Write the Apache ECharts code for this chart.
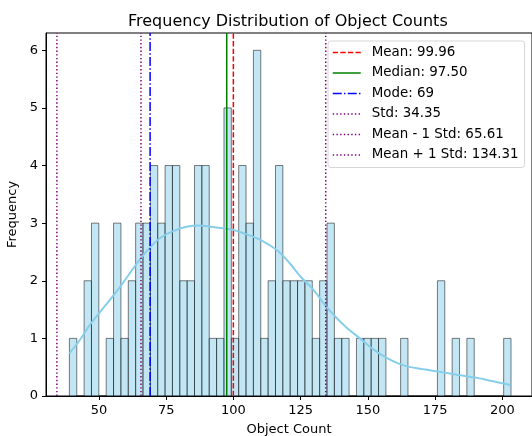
<!DOCTYPE html>
<html>
<head>
<meta charset="utf-8">
<script src="https://cdn.jsdelivr.net/npm/echarts@6/dist/echarts.min.js"></script>
<style>
  html, body { margin: 0; padding: 0; background: #fff; }
  #chart { width: 532px; height: 436px; }
</style>
</head>
<body>
<div id="chart"></div>
<script>
  // histogram: 60 bins from binMin, width binWidth
  var binMin = 39;
  var binWidth = 2.7367;
  var counts = [
    1, 0, 2, 3, 0, 1, 3, 1, 2, 3,
    3, 4, 3, 4, 4, 2, 2, 4, 4, 1,
    1, 5, 1, 4, 3, 6, 1, 2, 4, 2,
    2, 2, 2, 1, 2, 3, 1, 1, 0, 1,
    1, 1, 1, 0, 0, 1, 0, 0, 0, 0,
    2, 0, 1, 0, 1, 0, 0, 0, 0, 1
  ];

  // kde curve
  var kdeX = [39, 43, 47, 52, 57, 61, 65, 69, 73, 78, 83, 87, 91, 96, 100, 104, 109, 113, 117, 121,
              125, 130, 134, 138, 142, 147, 152, 157, 161, 165, 170, 174, 178, 183, 187, 191, 195, 199, 203];
  var kdeY = [0.74, 0.98, 1.26, 1.55, 1.84, 2.10, 2.36, 2.58, 2.75, 2.87, 2.94, 2.96, 2.94, 2.91, 2.88, 2.82, 2.73, 2.63, 2.50, 2.30,
              2.07, 1.83, 1.58, 1.37, 1.19, 1.00, 0.81, 0.66, 0.57, 0.51, 0.47, 0.44, 0.41, 0.37, 0.34, 0.31, 0.27, 0.23, 0.19];

  // reference lines
  var statNames = ['Mean: 99.96', 'Median: 97.50', 'Mode: 69', 'Std: 34.35', 'Mean - 1 Std: 65.61', 'Mean + 1 Std: 134.31'];
  var statValues = [99.96, 97.5, 69, 34.35, 65.61, 134.31];
  var statColors = ['#ff0000', '#008000', '#0000ff', '#800080', '#800080', '#800080'];

  var xTicks = [50, 75, 100, 125, 150, 175, 200];
  var yTicks = [0, 1, 2, 3, 4, 5, 6];

  var xMin = 30.3, xMax = 211, yMax = 6.3;
  var font = 'DejaVu Sans';
  var dashes = {
    dashed: [5.3, 2.3],
    solid: 'solid',
    dashdot: [9, 2.3, 1.4, 2.3],
    dotted: [1.4, 2.3]
  };
  var statDash = [dashes.dashed, dashes.solid, dashes.dashdot, dashes.dotted, dashes.dotted, dashes.dotted];

  var bins = [];
  for (var i = 0; i < counts.length; i++) {
    bins.push([binMin + i * binWidth, binMin + (i + 1) * binWidth, counts[i]]);
  }
  var kde = [];
  for (var k = 0; k < kdeX.length; k++) {
    kde.push([kdeX[k], kdeY[k]]);
  }

  var series = [
    {
      name: 'hist',
      type: 'custom',
      data: bins,
      encode: { x: [0, 1], y: 2 },
      z: 2,
      renderItem: function (params, api) {
        var p0 = api.coord([api.value(0), api.value(2)]);
        var p1 = api.coord([api.value(1), 0]);
        return {
          type: 'rect',
          shape: { x: p0[0], y: p0[1], width: p1[0] - p0[0], height: p1[1] - p0[1] },
          style: { fill: 'rgba(135,206,235,0.5)', stroke: 'rgba(0,0,0,0.5)', lineWidth: 1 }
        };
      }
    },
    {
      name: 'kde',
      type: 'line',
      data: kde,
      smooth: 0.4,
      symbol: 'none',
      z: 3,
      lineStyle: { color: '#87ceeb', width: 2 }
    }
  ];
  for (var s = 0; s < statNames.length; s++) {
    series.push({
      name: statNames[s],
      type: 'line',
      data: [[statValues[s], 0], [statValues[s], yMax]],
      symbol: 'none',
      z: 4,
      color: statColors[s],
      lineStyle: { color: statColors[s], width: 1.5, type: statDash[s], cap: 'butt' }
    });
  }

  var myChart = echarts.init(document.getElementById('chart'));
  myChart.setOption({
    animation: false,
    title: {
      text: 'Frequency Distribution of Object Counts',
      left: 123,
      top: 9,
      textStyle: { fontFamily: font, fontSize: 16, fontWeight: 'normal', color: '#000' }
    },
    legend: {
      data: statNames,
      orient: 'vertical',
      left: 328,
      top: 41,
      padding: [5, 6, 6, 4],
      itemWidth: 28,
      itemHeight: 13,
      itemGap: 7.5,
      backgroundColor: '#fff',
      borderColor: '#d6d6d6',
      borderWidth: 1,
      borderRadius: 3,
      itemStyle: { opacity: 0 },
      lineStyle: { width: 1.5 },
      textStyle: { fontFamily: font, fontSize: 13.4, color: '#000', padding: [0, 0, 0, 6], lineHeight: 13 }
    },
    grid: {
      left: 46, right: 0, top: 33, bottom: 40,
      outerBoundsMode: 'none',
      show: true, borderColor: '#000', borderWidth: 1
    },
    xAxis: {
      type: 'value',
      min: xMin,
      max: xMax,
      name: 'Object Count',
      nameLocation: 'middle',
      nameGap: 27,
      nameTextStyle: { fontFamily: font, fontSize: 13, color: '#000' },
      splitLine: { show: false },
      axisLine: { lineStyle: { color: '#000' } },
      axisTick: { length: 4, customValues: xTicks, lineStyle: { color: '#000' } },
      axisLabel: { customValues: xTicks, margin: 8, fontFamily: font, fontSize: 13, color: '#000' }
    },
    yAxis: {
      type: 'value',
      min: 0,
      max: yMax,
      name: 'Frequency',
      nameLocation: 'middle',
      nameGap: 23,
      nameTextStyle: { fontFamily: font, fontSize: 13, color: '#000' },
      splitLine: { show: false },
      axisLine: { show: true, lineStyle: { color: '#000' } },
      axisTick: { show: true, length: 4, customValues: yTicks, lineStyle: { color: '#000' } },
      axisLabel: { customValues: yTicks, margin: 8, fontFamily: font, fontSize: 13, color: '#000' }
    },
    series: series
  });
</script>
</body>
</html>
